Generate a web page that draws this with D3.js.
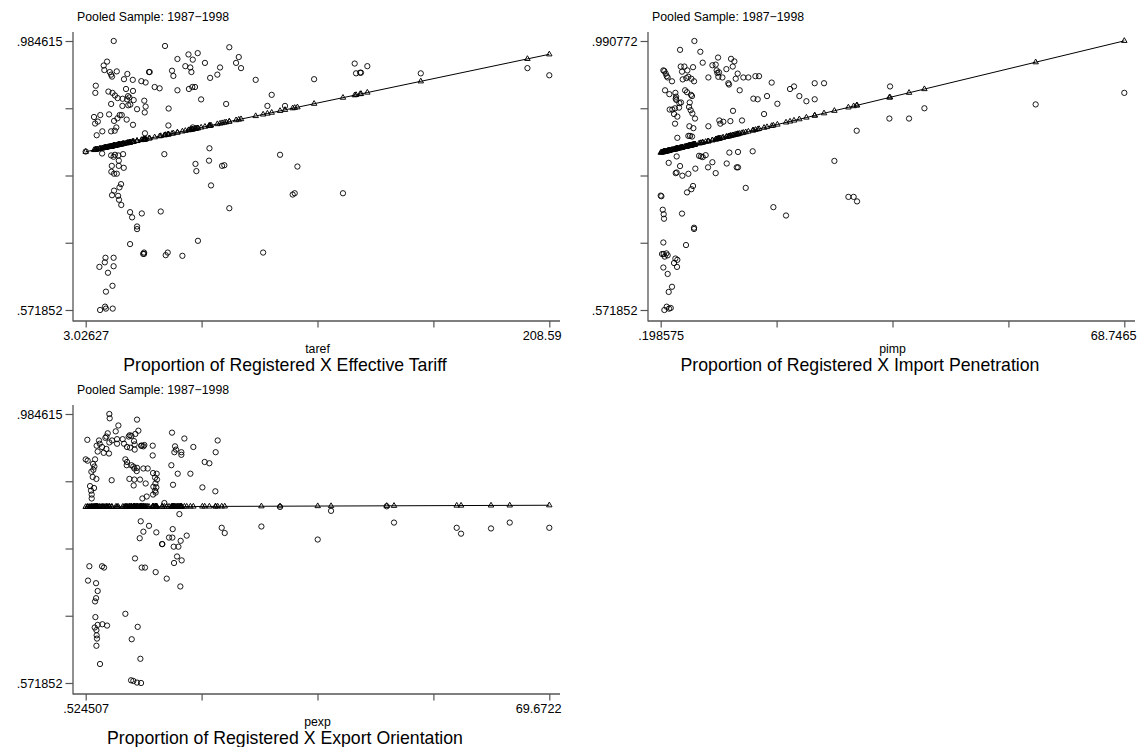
<!DOCTYPE html>
<html><head><meta charset="utf-8">
<script src="https://cdn.jsdelivr.net/npm/d3@7"></script>
<style>
html,body{margin:0;padding:0;background:#fff;}
svg{display:block;}
text{font-family:"Liberation Sans",Arial,Helvetica,sans-serif;fill:#000;}
</style></head><body>
<svg id="chart" width="1145" height="747"></svg>
<script>
// ---------- texts ----------
const subtitle = "Pooled Sample: 1987\u22121998";
const panelTitles = ["Proportion of Registered X Effective Tariff", "Proportion of Registered X Import Penetration", "Proportion of Registered X Export Orientation"];
const axisTitles = ["taref", "pimp", "pexp"];
const xTickLabels = [["3.02627", "208.59"], [".198575", "68.7465"], [".524507", "69.6722"]];
const yTickLabels = [[".571852", ".984615"], [".571852", ".990772"], [".571852", ".984615"]];
const xDomains = [[3.02627, 208.59], [0.198575, 68.7465], [0.524507, 69.6722]];
const yDomains = [[0.571852, 0.984615], [0.571852, 0.990772], [0.571852, 0.984615]];

// ---------- panel 1: taref ----------
const tarefX = [15.45,38.2,66.7,48.6,52.7,12.5,11.0,11.3,43.7,50.5,70.9,69.7,71.9,47.2,49.4,49.9,55.9,62.6,61.4,58.2,
41.3,41.9,31.1,31.4,13.7,16.8,14.3,14.7,21.5,7.5,7.3,20.0,23.9,27.7,29.6,33.6,35.8,78.4,104.3,13.1,
14.9,16.0,17.2,20.9,24.0,43.7,48.8,50.3,51.5,19.4,21.8,22.4,21.4,24.3,29.0,54.2,85.5,14.3,19.3,21.9,
22.8,25.8,29.6,29.2,39.8,65.3,83.6,91.4,6.7,9.5,13.4,17.1,18.1,19.0,21.2,7.2,8.4,15.6,16.6,15.9,
24.0,10.4,14.3,7.9,29.3,39.7,50.5,37.9,57.9,57.7,51.7,52.1,63.5,64.5,89.2,96.9,10.3,14.3,16.0,17.5,
19.6,15.4,17.7,14.6,17.7,19.9,14.4,15.6,16.8,58.6,18.7,18.0,15.6,14.7,17.4,17.8,18.8,94.8,95.7,22.7,
23.6,27.9,36.3,66.7,25.8,25.8,22.7,52.8,28.9,28.9,28.5,38.5,39.4,45.9,81.7,11.8,15.4,11.5,9.1,15.4,
12.9,14.9,12.0,9.4,11.6,12.0,15.0,122.3,122.9,124.7,125.1,127.9,117.1,151.6,198.9,208.59,3.02627];
const tarefY = [0.984615,0.977,0.975,0.964,0.966,0.953,0.947,0.940,0.957,0.956,0.960,0.951,0.943,0.946,0.944,0.937,0.951,0.944,0.933,0.928,
0.939,0.931,0.937,0.937,0.937,0.938,0.933,0.930,0.934,0.916,0.905,0.926,0.925,0.923,0.921,0.914,0.912,0.925,0.926,0.907,
0.905,0.901,0.897,0.911,0.908,0.909,0.911,0.914,0.914,0.896,0.900,0.898,0.895,0.894,0.893,0.895,0.902,0.888,0.885,0.886,
0.887,0.880,0.884,0.875,0.881,0.888,0.885,0.885,0.868,0.871,0.872,0.866,0.871,0.871,0.864,0.858,0.861,0.862,0.852,0.847,
0.856,0.846,0.846,0.840,0.843,0.855,0.852,0.811,0.820,0.801,0.796,0.785,0.793,0.794,0.810,0.792,0.812,0.809,0.810,0.809,
0.811,0.807,0.801,0.793,0.793,0.790,0.784,0.781,0.781,0.763,0.765,0.760,0.755,0.748,0.747,0.741,0.733,0.749,0.751,0.722,
0.714,0.720,0.723,0.728,0.700,0.696,0.673,0.678,0.660,0.658,0.658,0.656,0.660,0.655,0.660,0.652,0.652,0.645,0.638,0.639,
0.629,0.609,0.600,0.571852,0.577,0.574,0.574,0.950,0.935,0.936,0.936,0.946,0.751,0.935,0.943,0.932,0.815];
const tarefFit = [0.8147, 0.9642];   // fitted value at min and max taref

// ---------- panel 2: pimp ----------
const pimpX = [5.18,3.06,6.06,8.68,10.60,11.09,6.41,7.84,8.33,0.74,0.59,0.94,1.09,1.23,3.16,3.70,4.14,4.98,3.35,8.48,
8.58,8.82,9.91,10.85,11.58,11.29,12.42,13.16,14.20,14.74,7.25,8.72,9.32,10.20,10.30,3.45,3.99,4.29,4.73,5.13,
1.87,0.84,1.48,3.80,4.09,2.37,2.47,2.42,2.51,4.68,4.83,11.88,16.61,19.32,19.91,22.97,24.35,13.90,14.54,15.92,
17.45,20.70,21.74,22.97,2.96,3.20,4.49,2.91,4.39,1.53,1.92,2.32,2.17,4.63,4.88,5.27,2.66,10.89,15.48,4.44,
2.32,8.87,9.46,9.02,10.50,12.22,7.25,5.03,4.29,4.54,4.83,2.66,13.80,11.63,10.35,5.87,6.16,6.41,6.85,7.84,
9.96,2.56,1.38,3.06,2.56,2.42,3.40,4.29,5.32,7.20,8.33,11.44,11.63,4.09,4.73,4.98,12.77,29.18,25.88,0.198575,
0.30,0.50,0.64,0.69,3.35,5.13,5.13,3.94,0.59,0.40,0.64,0.79,1.04,1.23,2.37,2.66,2.17,2.61,0.59,1.23,
1.87,1.38,0.74,1.09,1.43,1.68,16.86,18.73,27.95,28.73,29.23,34.11,34.01,36.92,39.19,55.64,68.7465];
const pimpY = [0.990772,0.977,0.974,0.965,0.963,0.959,0.957,0.953,0.954,0.944,0.945,0.940,0.936,0.934,0.951,0.951,0.945,0.950,0.943,0.945,
0.941,0.942,0.947,0.951,0.940,0.932,0.934,0.934,0.936,0.936,0.934,0.935,0.934,0.925,0.923,0.931,0.933,0.935,0.932,0.928,
0.928,0.914,0.908,0.914,0.911,0.910,0.904,0.901,0.899,0.907,0.905,0.914,0.926,0.916,0.920,0.925,0.925,0.901,0.900,0.905,
0.893,0.905,0.897,0.900,0.894,0.895,0.895,0.887,0.888,0.884,0.884,0.886,0.877,0.883,0.878,0.870,0.873,0.882,0.877,0.858,
0.862,0.867,0.865,0.862,0.866,0.867,0.858,0.855,0.843,0.843,0.842,0.840,0.819,0.818,0.817,0.812,0.811,0.810,0.813,0.802,
0.800,0.811,0.801,0.796,0.786,0.785,0.781,0.784,0.792,0.794,0.785,0.794,0.794,0.755,0.760,0.765,0.762,0.851,0.804,0.750,
0.749,0.728,0.721,0.714,0.722,0.700,0.698,0.673,0.677,0.659,0.659,0.655,0.660,0.657,0.652,0.650,0.645,0.639,0.638,0.628,
0.608,0.600,0.571852,0.577,0.574,0.575,0.732,0.719,0.748,0.748,0.741,0.920,0.870,0.870,0.886,0.892,0.910];
const pimpFit = [0.8169, 0.9910];

// ---------- panel 3: pexp ----------
const pexpX = [4.05,4.10,8.18,5.40,3.81,3.61,5.00,0.77,2.51,2.61,3.46,4.05,4.45,5.20,5.20,6.04,6.24,6.94,7.09,7.34,
7.93,8.38,7.73,6.69,7.14,7.83,8.78,8.88,9.13,9.27,10.52,10.52,2.16,2.96,2.31,3.21,3.61,4.00,7.83,0.524507,
0.82,1.92,1.62,1.82,1.67,1.37,6.44,6.69,6.64,7.34,7.63,7.78,8.18,9.13,9.77,10.57,11.11,10.87,11.16,10.92,
8.13,8.63,7.04,7.78,7.68,9.47,10.62,10.87,10.57,11.06,10.96,1.57,2.12,1.17,1.32,1.42,1.42,1.77,4.40,8.98,
9.62,13.40,15.24,13.85,13.75,14.00,14.79,14.79,13.30,14.25,13.55,16.58,16.14,18.27,18.97,20.21,19.91,17.93,19.86,14.50,
8.73,9.97,9.13,8.58,11.06,13.50,12.95,13.45,11.96,11.91,13.65,14.35,14.69,15.59,14.15,13.70,14.84,7.88,8.88,9.37,
10.96,12.61,14.64,1.07,2.96,3.26,0.87,2.07,2.31,2.07,1.92,1.97,1.87,2.31,3.01,3.71,2.12,2.16,2.21,2.12,
6.44,8.28,7.39,8.68,2.66,7.29,7.63,8.18,8.78,20.81,21.26,26.73,29.51,35.13,37.12,45.42,46.51,55.86,56.51,60.98,
63.77,69.6722,12.26];
const pexpY = [0.984615,0.978,0.976,0.967,0.955,0.950,0.958,0.945,0.944,0.939,0.948,0.941,0.944,0.946,0.939,0.946,0.939,0.950,0.952,0.951,
0.954,0.959,0.943,0.934,0.933,0.938,0.936,0.936,0.935,0.937,0.936,0.921,0.936,0.934,0.927,0.925,0.931,0.924,0.930,0.915,
0.913,0.915,0.908,0.904,0.899,0.896,0.915,0.911,0.906,0.906,0.904,0.901,0.902,0.901,0.901,0.894,0.893,0.887,0.884,0.878,
0.897,0.884,0.885,0.884,0.875,0.878,0.873,0.867,0.861,0.872,0.864,0.888,0.885,0.874,0.867,0.861,0.855,0.871,0.883,0.855,
0.858,0.956,0.947,0.935,0.926,0.930,0.926,0.922,0.906,0.893,0.876,0.934,0.893,0.911,0.909,0.944,0.926,0.872,0.866,0.831,
0.820,0.813,0.804,0.794,0.803,0.808,0.795,0.795,0.785,0.785,0.781,0.781,0.790,0.798,0.766,0.756,0.760,0.763,0.749,0.749,
0.742,0.732,0.720,0.751,0.751,0.749,0.729,0.725,0.713,0.702,0.697,0.673,0.657,0.661,0.662,0.660,0.653,0.645,0.640,0.629,
0.678,0.658,0.639,0.609,0.601,0.576,0.575,0.5725,0.571852,0.810,0.802,0.812,0.842,0.792,0.836,0.843,0.818,0.810,0.801,0.809,
0.818,0.810,0.848];
const pexpFit = [0.8421, 0.8446];

// ---------- layout ----------
const cellW = 575, cellH = 373;
const plotX = [85.7, 549.3], plotY = [310, 41];
const axisLeftX = 73, axisBottomY = 321, axisTop = 32, axisRight = 560;
const axisColor = "#555";

const panels = [
  {xs: tarefX, ys: tarefY, fit: tarefFit, i: 0, col: 0, row: 0},
  {xs: pimpX,  ys: pimpY,  fit: pimpFit,  i: 1, col: 1, row: 0},
  {xs: pexpX,  ys: pexpY,  fit: pexpFit,  i: 2, col: 0, row: 1}
];

const svg = d3.select("#chart");
svg.append("rect").attr("width",1145).attr("height",747).attr("fill","#fff");

panels.forEach(p => {
  const xd = xDomains[p.i], yd = yDomains[p.i];
  const g = svg.append("g").attr("transform", `translate(${p.col*cellW},${p.row*cellH})`);
  const x = d3.scaleLinear().domain(xd).range(plotX);
  const y = d3.scaleLinear().domain(yd).range(plotY);

  g.append("text").attr("x", 77).attr("y", 20.5).attr("font-size", "12.3px").text(subtitle);

  // y axis
  const yTicks = d3.range(5).map(k => yd[0] + k*(yd[1]-yd[0])/4);
  const ya = g.append("g").attr("transform", `translate(${axisLeftX},0)`)
    .call(d3.axisLeft(y).tickValues(yTicks).tickSize(7.5).tickPadding(3)
      .tickFormat((d,k) => k===0 ? yTickLabels[p.i][0] : (k===4 ? yTickLabels[p.i][1] : "")));
  ya.select(".domain").remove();
  ya.selectAll(".tick line").attr("stroke", axisColor).attr("stroke-width", 1.2);
  ya.selectAll(".tick text").attr("font-size", "12.7px").attr("font-family", null).attr("fill", "#000");

  // x axis
  const xTicks = d3.range(5).map(k => xd[0] + k*(xd[1]-xd[0])/4);
  const xa = g.append("g").attr("transform", `translate(0,${axisBottomY})`)
    .call(d3.axisBottom(x).tickValues(xTicks).tickSize(6.5).tickPadding(3)
      .tickFormat((d,k) => k===0 ? xTickLabels[p.i][0] : (k===4 ? xTickLabels[p.i][1] : "")));
  xa.select(".domain").remove();
  xa.selectAll(".tick line").attr("stroke", axisColor).attr("stroke-width", 1.2);
  xa.selectAll(".tick text").attr("font-size", "12.7px").attr("font-family", null).attr("fill", "#000");
  xa.selectAll(".tick").filter((d,k) => k===4).select("text")
    .attr("text-anchor", "end").attr("x", axisRight + 1 - plotX[1]);

  // axis lines
  g.append("line").attr("x1", axisLeftX).attr("x2", axisLeftX).attr("y1", axisTop).attr("y2", axisBottomY+0.6)
    .attr("stroke", axisColor).attr("stroke-width", 1.3);
  g.append("line").attr("x1", axisLeftX).attr("x2", axisRight).attr("y1", axisBottomY).attr("y2", axisBottomY)
    .attr("stroke", axisColor).attr("stroke-width", 1.3);

  // observed: hollow circles
  const obs = d3.zip(p.xs, p.ys);
  g.append("g").selectAll("circle").data(obs).join("circle")
    .attr("cx", d => x(d[0])).attr("cy", d => y(d[1])).attr("r", 2.65)
    .attr("fill", "none").attr("stroke", "#000").attr("stroke-width", 0.9);

  // fitted: line + hollow triangles
  const fitScale = d3.scaleLinear().domain(xd).range(p.fit);
  const fitted = p.xs.map(v => [v, fitScale(v)]).sort((a,b) => a[0]-b[0]);
  g.append("path").attr("d", d3.line().x(d => x(d[0])).y(d => y(d[1]))(fitted))
    .attr("fill", "none").attr("stroke", "#000").attr("stroke-width", 1);
  const tri = d3.symbol(d3.symbolTriangle, 13);
  g.append("g").selectAll("path").data(fitted).join("path")
    .attr("transform", d => `translate(${x(d[0])},${y(d[1])})`).attr("d", tri)
    .attr("fill", "none").attr("stroke", "#000").attr("stroke-width", 0.95);

  // titles
  g.append("text").attr("x", (plotX[0]+plotX[1])/2).attr("y", 353).attr("text-anchor", "middle")
    .attr("font-size", "12.3px").text(axisTitles[p.i]);
  g.append("text").attr("x", 285).attr("y", 370.5).attr("text-anchor", "middle")
    .attr("font-size", "17.7px").text(panelTitles[p.i]);
});
</script>
</body></html>
